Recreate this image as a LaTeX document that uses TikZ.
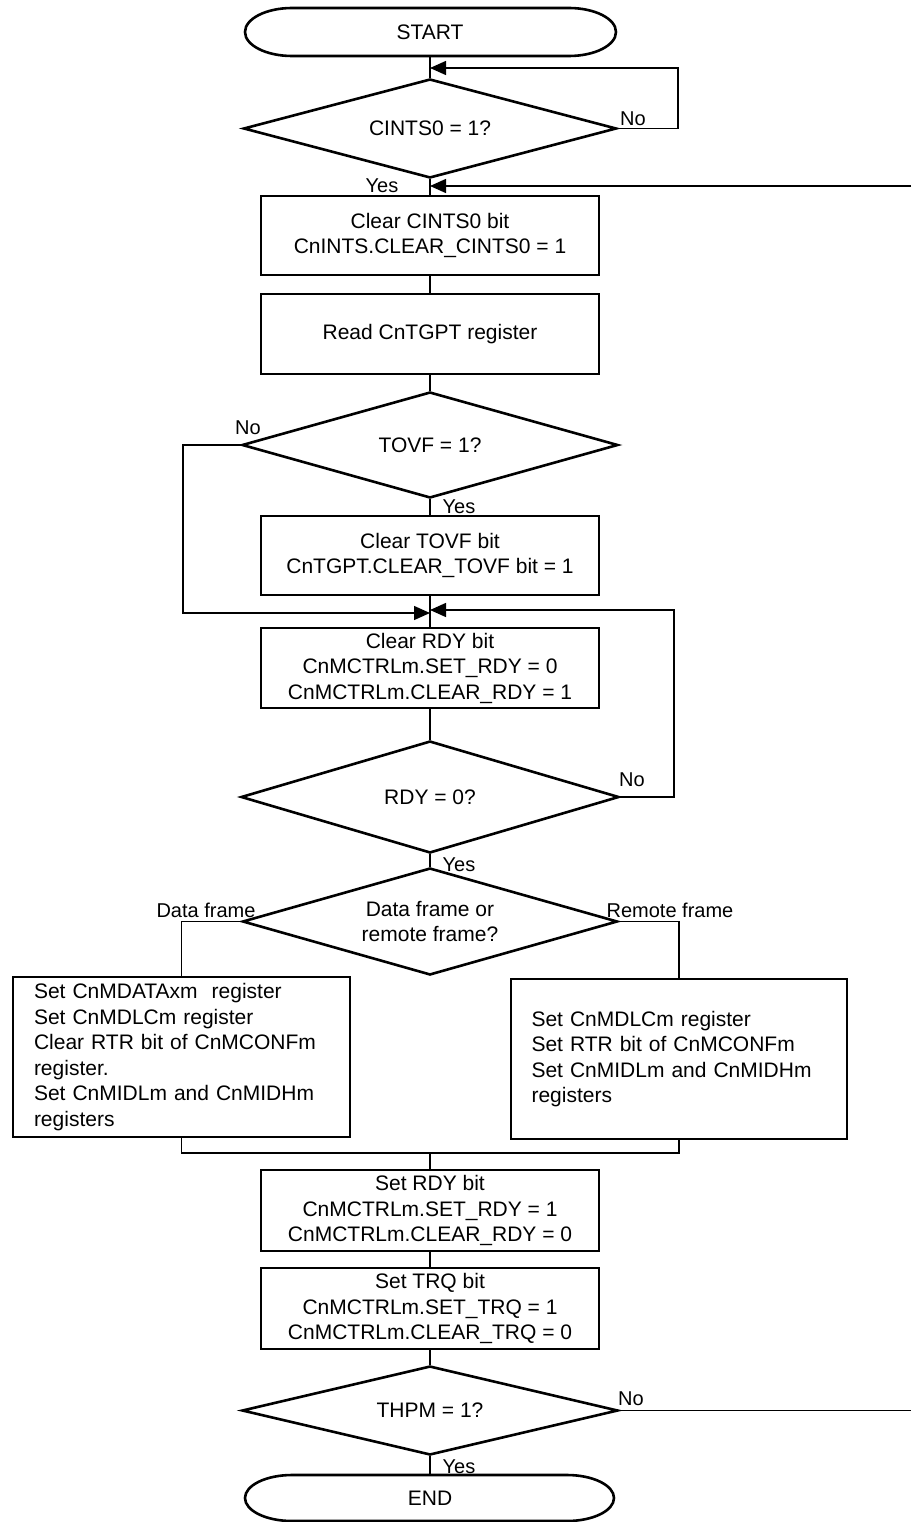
\documentclass[tikz,border=0pt]{standalone}
\usepackage{fontspec}
\setmainfont{Liberation Sans}
\usetikzlibrary{arrows.meta,shapes.geometric}
\begin{document}
\begin{tikzpicture}[x=1pt,y=-1pt,
  txt/.style={font=\fontsize{21}{25.5}\selectfont, inner sep=0pt},
  procbox/.style={txt, draw, line width=2.6pt, rectangle, minimum width=338pt, align=center},
  listbox/.style={txt, draw, line width=2.6pt, rectangle, minimum height=160pt, text width=295pt, align=left, font=\fontsize{21}{25.6}\selectfont},
  decision/.style={txt, draw, line width=2.6pt, diamond, shape aspect=3.5, align=center},
  termnode/.style={txt, rectangle},
  termline/.style={line width=2.6pt},
  conn/.style={line width=1.4pt},
  arr/.style={conn, -{Triangle[length=16pt,width=14pt]}},
  lbl/.style={font=\fontsize{20}{24}\selectfont, inner sep=0pt},
]
\useasboundingbox (0,0) rectangle (911,1522);

% START
\node[termnode, minimum width=371pt, minimum height=48pt] (start) at (430,32) {START};
\draw[termline] (292,8) -- (569,8) arc[start angle=90,end angle=-90,x radius=47pt,y radius=24pt]
  -- (292,56) arc[start angle=-90,end angle=-270,x radius=47pt,y radius=24pt] -- cycle;

% decision 1
\node[decision, minimum width=373pt, minimum height=99pt] (d1) at (430,128.5) {CINTS0 = 1?};
\node[lbl] (no1) at (633,119) {No};
\node[lbl] (yes1) at (382,186) {Yes};

% boxes
\node[procbox, minimum height=79pt] (b1) at (430,235.5) {Clear CINTS0 bit\\CnINTS.CLEAR\_CINTS0 = 1};
\node[procbox, minimum height=80pt] (b2) at (430,334) {Read CnTGPT register};

% decision 2
\node[decision, minimum width=376pt, minimum height=106pt] (d2) at (430,445) {TOVF = 1?};
\node[lbl] (no2) at (248,428) {No};
\node[lbl] (yes2) at (459,507) {Yes};

\node[procbox, minimum height=79pt] (b3) at (430,555.5) {Clear TOVF bit\\CnTGPT.CLEAR\_TOVF bit = 1};
\node[procbox, minimum height=80pt] (b4) at (430,668) {Clear RDY bit\\CnMCTRLm.SET\_RDY = 0\\CnMCTRLm.CLEAR\_RDY = 1};

% decision 3
\node[decision, minimum width=378pt, minimum height=112pt] (d3) at (430,797) {RDY = 0?};
\node[lbl] (no3) at (632,780) {No};
\node[lbl] (yes3) at (459,865) {Yes};

% decision 4
\node[decision, minimum width=375pt, minimum height=107pt] (d4) at (430,921.5) {Data frame or\\remote frame?};
\node[lbl] (df) at (206,910) {Data frame};
\node[lbl] (rf) at (670,910) {Remote frame};

% branch boxes
\node[listbox, minimum width=337pt] (bl) at (181.5,1057) {Set CnMDATAxm~ register\\Set CnMDLCm register\\Clear RTR bit of CnMCONFm\\register.\\Set CnMIDLm and CnMIDHm\\registers};
\node[listbox, minimum width=336pt] (br) at (679,1059) {Set CnMDLCm register\\Set RTR bit of CnMCONFm\\Set CnMIDLm and CnMIDHm\\registers};

\node[procbox, minimum height=81pt] (b5) at (430,1210.5) {Set RDY bit\\CnMCTRLm.SET\_RDY = 1\\CnMCTRLm.CLEAR\_RDY = 0};
\node[procbox, minimum height=81pt] (b6) at (430,1308.5) {Set TRQ bit\\CnMCTRLm.SET\_TRQ = 1\\CnMCTRLm.CLEAR\_TRQ = 0};

% decision 5
\node[decision, minimum width=376pt, minimum height=89pt] (d5) at (430,1410.5) {THPM = 1?};
\node[lbl] (no5) at (631,1399) {No};
\node[lbl] (yes5) at (459,1467) {Yes};

% END
\node[termnode, minimum width=369pt, minimum height=46pt] (end) at (430,1498) {END};
\draw[termline] (292,1475) -- (567,1475) arc[start angle=90,end angle=-90,x radius=47pt,y radius=23pt]
  -- (292,1521) arc[start angle=-90,end angle=-270,x radius=47pt,y radius=23pt] -- cycle;

% coordinates
\coordinate (m1) at (430,68);
\coordinate (c1) at (678,68);
\coordinate (m2) at (430,186);
\coordinate (r1) at (911,186);
\coordinate (m3) at (430,613);
\coordinate (c2) at (183,613);
\coordinate (m4) at (430,610);
\coordinate (c3) at (674,610);
\coordinate (mg) at (430,1153);
\coordinate (r2) at (911,1410.5);

% connectors
\draw[conn] (start.south) -- (d1.north);
\draw[arr] (d1.east) -| (c1) -- (m1);
\draw[conn] (d1.south) -- (b1.north);
\draw[arr] (r1) -- (m2);
\draw[conn] (b1.south) -- (b2.north);
\draw[conn] (b2.south) -- (d2.north);
\draw[conn] (d2.south) -- (b3.north);
\draw[arr] (d2.west) -| (c2) -- (m3);
\draw[conn] (b3.south) -- (b4.north);
\draw[arr] (d3.east) -| (c3) -- (m4);
\draw[conn] (b4.south) -- (d3.north);
\draw[conn] (d3.south) -- (d4.north);
\draw[conn] (d4.west) -| (bl.north);
\draw[conn] (d4.east) -| (br.north);
\draw[conn] (bl.south) |- (mg) -| (br.south);
\draw[conn] (mg) -- (b5.north);
\draw[conn] (b5.south) -- (b6.north);
\draw[conn] (b6.south) -- (d5.north);
\draw[conn] (d5.east) -- (r2);
\draw[conn] (d5.south) -- (end.north);
\end{tikzpicture}
\end{document}
